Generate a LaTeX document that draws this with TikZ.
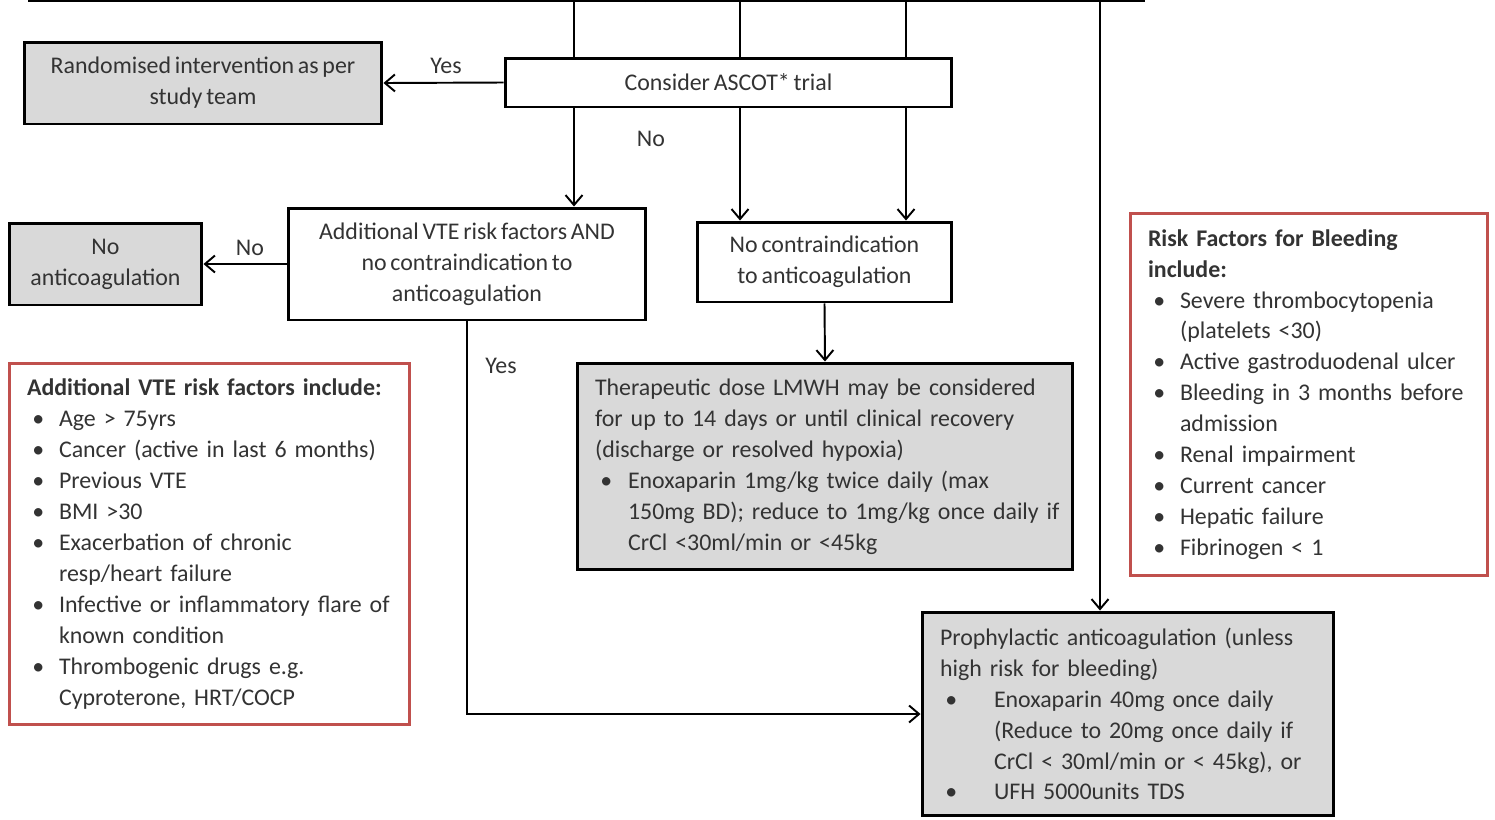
\documentclass[tikz,border=0pt]{standalone}
\usepackage{fontspec}
\setmainfont{Carlito}[WordSpace=0.7]
\usetikzlibrary{arrows.meta}
\definecolor{boxgray}{HTML}{D9D9D9}
\definecolor{riskred}{HTML}{C0504D}
\definecolor{inkgray}{HTML}{333333}
\newcommand{\bitem}[2]{\par\noindent\hangindent=#1\makebox[#1][l]{\hspace{3pt}\textbullet}#2\par}

\begin{document}
\begin{tikzpicture}[x=0.02cm,y=-0.02cm,
                every node/.style={font=\fontsize{13.6}{17.6}\selectfont, text=inkgray},
                plain/.style={draw=black, line width=1.7pt, fill=white, align=center, inner sep=0pt},
                shaded/.style={plain, fill=boxgray},
                listbox/.style={inner xsep=0.36cm, inner ysep=0pt,
                                execute at begin node={\raggedright\rightskip=-2cm plus 1fil\hyphenpenalty=10000\parindent=0pt}},
                riskbox/.style={listbox, draw=riskred, line width=1.7pt, fill=white},
                link/.style={line width=1.1pt, draw=black},
                arrow/.style={link, -{Straight Barb[length=2mm,width=3.4mm]}}]
                \useasboundingbox (0,0) rectangle (1495,819);
                % box above, cut off by the page edge
                \node[plain, minimum width=22.28cm, minimum height=1.2cm, anchor=south west] (prior) at (28,2) {};
                \foreach \x in {499,646,807,968}
                    \draw[line width=1.7pt] (prior.south -| \x,0) -- ++(0,-60);
                \coordinate (v1) at (574,0);
                \coordinate (v2) at (740,0);
                \coordinate (v3) at (906,0);
                \coordinate (v4) at (1100,0);
                % decision boxes
                \node[shaded, minimum width=7.16cm, minimum height=1.64cm] (rand) at (203,83) {Randomised intervention as per\\study team};
                \node[plain, minimum width=8.94cm, minimum height=0.98cm] (ascot) at (728.5,82.5) {Consider ASCOT* trial};
                \node[plain, minimum width=7.16cm, minimum height=2.24cm] (addl) at (467,264) {Additional VTE risk factors AND\\no contraindication to\\anticoagulation};
                \node[shaded, minimum width=3.86cm, minimum height=1.64cm] (noanti) at (105.5,264) {No\\anticoagulation};
                \node[plain, minimum width=5.1cm, minimum height=1.6cm] (nocontra) at (824.5,262) {No contraindication\\to anticoagulation};
                \node[shaded, listbox, text width=9.2cm, minimum height=4.14cm] (thera) at (825,466.5) {%
                    Therapeutic dose LMWH may be considered\newline for up to 14 days or until clinical recovery\newline (discharge or resolved hypoxia)
                    \bitem{0.66cm}{Enoxaparin 1mg/kg twice daily (max\newline 150mg BD); reduce to 1mg/kg once daily if\newline CrCl <30ml/min or <45kg}};
                \node[shaded, listbox, text width=7.52cm, minimum height=4.08cm] (proph) at (1128,714) {%
                    Prophylactic anticoagulation (unless\newline high risk for bleeding)
                    \bitem{1.08cm}{Enoxaparin 40mg once daily\newline (Reduce to 20mg once daily if\newline CrCl < 30ml/min or < 45kg), or}
                    \bitem{1.08cm}{UFH 5000units TDS}};
                % risk factor lists
                \node[riskbox, text width=7.3cm, minimum height=7.24cm] (vterisk) at (209.5,544) {%
                    \textbf{Additional VTE risk factors include:}
                    \bitem{0.64cm}{Age > 75yrs}
                    \bitem{0.64cm}{Cancer (active in last 6 months)}
                    \bitem{0.64cm}{Previous VTE}
                    \bitem{0.64cm}{BMI >30}
                    \bitem{0.64cm}{Exacerbation of chronic\newline resp/heart failure}
                    \bitem{0.64cm}{Infective or inflammatory flare of\newline known condition}
                    \bitem{0.64cm}{Thrombogenic drugs e.g.\newline Cyproterone, HRT/COCP}};
                \node[riskbox, text width=6.44cm, minimum height=7.26cm] (bleedrisk) at (1309,394.5) {%
                    \textbf{Risk Factors for Bleeding\newline include:}
                    \bitem{0.64cm}{Severe thrombocytopenia\newline (platelets <30)}
                    \bitem{0.64cm}{Active gastroduodenal ulcer}
                    \bitem{0.64cm}{Bleeding in 3 months before\newline admission}
                    \bitem{0.64cm}{Renal impairment}
                    \bitem{0.64cm}{Current cancer}
                    \bitem{0.64cm}{Hepatic failure}
                    \bitem{0.64cm}{Fibrinogen < 1}};
                % labels
                \node (yes1) at (446,66) {Yes};
                \node (no1) at (651,139) {No};
                \node (no2) at (250,248) {No};
                \node (yes2) at (501,366) {Yes};
                % connectors
                \foreach \v in {v1,v2,v3}
                    \draw[link] (prior.south -| \v) -- (ascot.north -| \v);
                \draw[arrow] (ascot.south -| v1) -- (addl.north -| v1);
                \draw[arrow] (ascot.south -| v2) -- (nocontra.north -| v2);
                \draw[arrow] (ascot.south -| v3) -- (nocontra.north -| v3);
                \draw[arrow] (prior.south -| v4) -- (proph.north -| v4);
                \draw[arrow] (ascot.west) -- (rand.east);
                \draw[arrow] (addl.west) -- (noanti.east);
                \draw[arrow] (nocontra.south) -- (thera.north);
                \draw[arrow] (addl.south) |- (proph.west);
            \end{tikzpicture}
\end{document}
